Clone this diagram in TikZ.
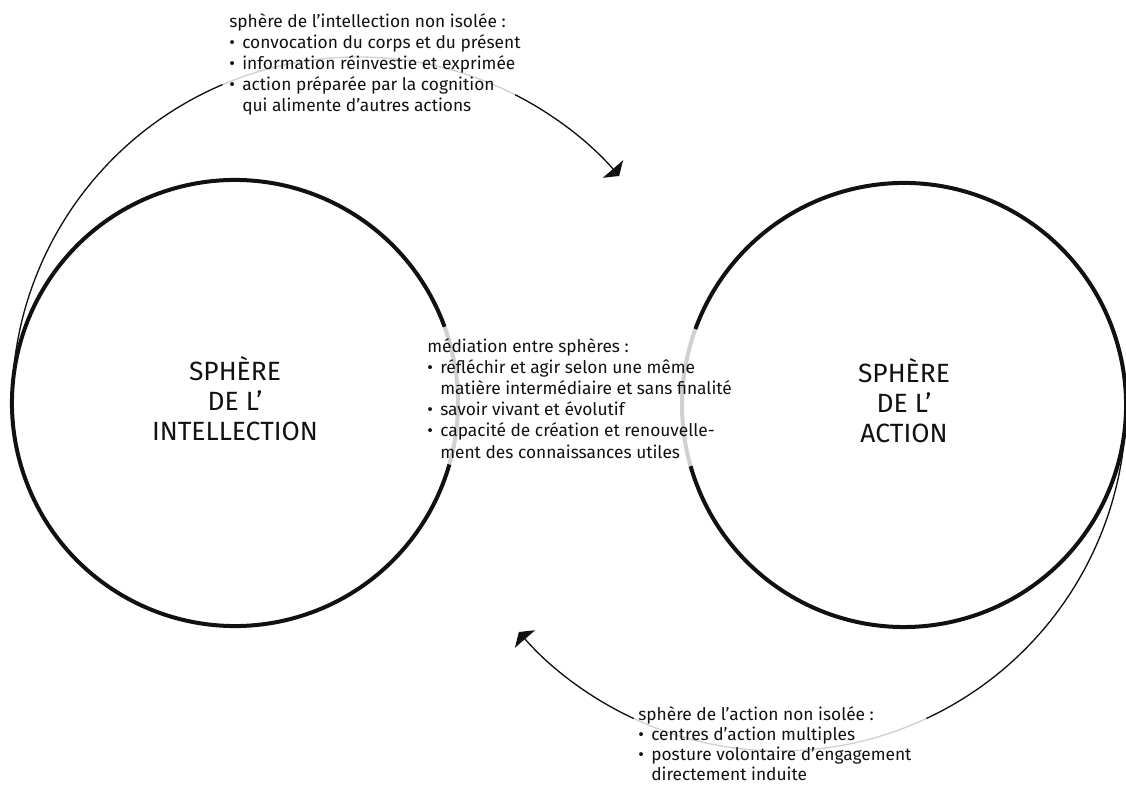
\documentclass[tikz,border=0pt]{standalone}
\usepackage{fontspec}
\setmainfont{Fira Sans}
\usetikzlibrary{arrows.meta}
\definecolor{cink}{HTML}{111111}
\definecolor{cfade}{HTML}{D0D0D0}
\newcommand{\bul}{\makebox[0.75em][l]{•}}
\newcommand{\cont}{\hspace*{0.75em}}
\tikzset{
  every picture/.style={x=0.75pt, y=0.75pt},
  sphere/.style={circle, minimum size=#1, inner sep=0pt, outer sep=0pt},
  title/.style={font=\fontsize{19.8}{22.5}\selectfont, align=center, text=cink, yshift=3pt},
  note/.style={font=\fontsize{13}{15.9}\selectfont, align=left, inner sep=0pt, text=cink},
  rim/.style={line width=3pt, draw=cink},
  link/.style={line width=1pt, draw=cink},
  faded/.style={draw=cfade},
  arrowend/.style={-{Triangle[length=7pt, width=20pt]}},
}

\begin{document}
\begin{tikzpicture}
  \useasboundingbox (0,0) rectangle (1126,787);
  % the two spheres
  \node[sphere=334.5pt] (intel) at (235,384) {};
  \node[sphere=333pt] (action) at (904,382) {};
  \draw[rim, faded] (intel.-16) arc[start angle=-16, end angle=20, radius=223];
  \draw[rim] (intel.20) arc[start angle=20, end angle=344, radius=223];
  \draw[rim, faded] (action.160) arc[start angle=160, end angle=196, radius=222];
  \draw[rim] (action.196) arc[start angle=196, end angle=520, radius=222];
  \node[title] (intel label) at (intel) {SPHÈRE\\DE L’\\INTELLECTION};
  \node[title] (action label) at (action) {SPHÈRE\\DE L’\\ACTION};
  % arc from intellection towards action
  \draw[link] (intel.west) arc[start angle=180, end angle=113, radius=346] coordinate (top fade in);
  \draw[link, faded] (top fade in) arc[start angle=113, end angle=63, radius=346] coordinate (top fade out);
  \draw[link, arrowend] (top fade out) arc[start angle=63, end angle=41, radius=346] coordinate (top end);
  % arc from action towards intellection
  \draw[link] (action.east) arc[start angle=0, end angle=-65, radius=346] coordinate (bottom fade in);
  \draw[link, faded] (bottom fade in) arc[start angle=-65, end angle=-115, radius=346] coordinate (bottom fade out);
  \draw[link, arrowend] (bottom fade out) arc[start angle=-115, end angle=-139, radius=346] coordinate (bottom end);
  % notes
  \node[note, anchor=north west] (intel note) at (229,774) {sphère de l’intellection non isolée :\\
    \bul convocation du corps et du présent\\
    \bul information réinvestie et exprimée\\
    \bul action préparée par la cognition\\
    \cont qui alimente d’autres actions};
  \node[note, anchor=north west] (mediation note) at (427,449) {médiation entre sphères :\\
    \bul réfléchir et agir selon une même\\
    \cont matière intermédiaire et sans finalité\\
    \bul savoir vivant et évolutif\\
    \bul capacité de création et renouvelle-\\
    \cont ment des connaissances utiles};
  \node[note, anchor=north west, font=\fontsize{13}{15.2}\selectfont] (action note) at (638,81) {sphère de l’action non isolée :\\
    \bul centres d’action multiples\\
    \bul posture volontaire d’engagement\\
    \cont directement induite};
\end{tikzpicture}
\end{document}
